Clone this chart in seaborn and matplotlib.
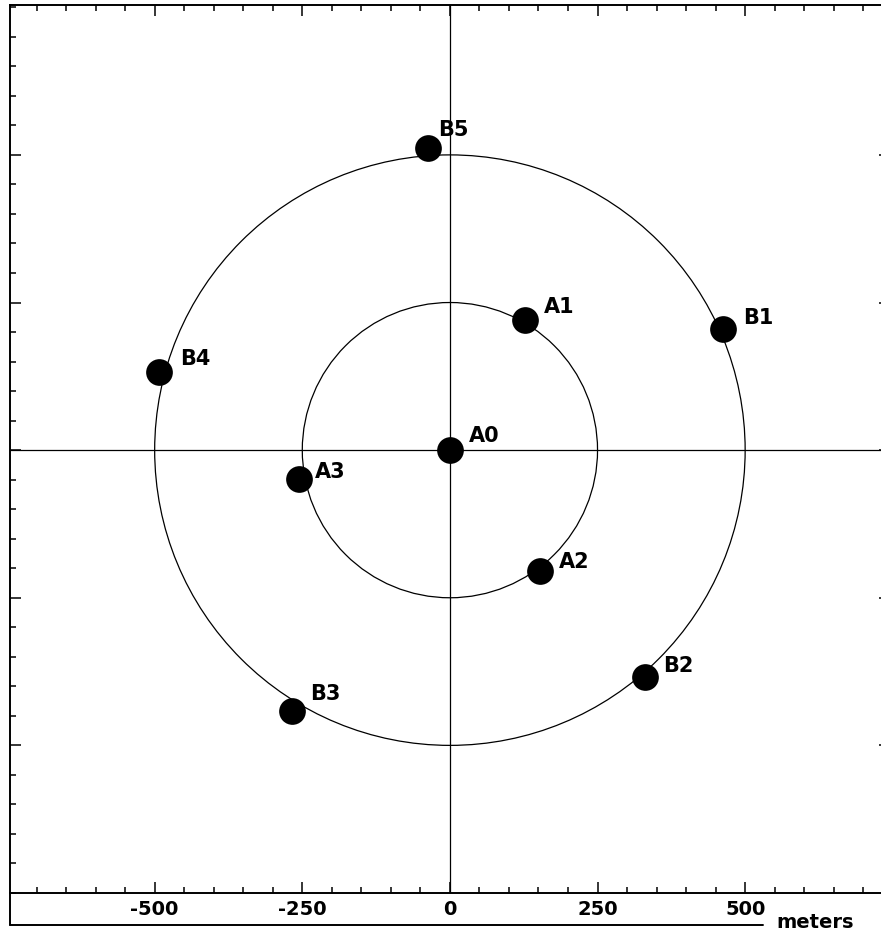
import matplotlib
matplotlib.use("Agg")
import matplotlib.pyplot as plt
from matplotlib.patches import Circle
from matplotlib.lines import Line2D
from matplotlib.ticker import MultipleLocator
import pandas as pd
import seaborn as sns

# Station layout (meters east / north of the central station A0)
stations = ["A0", "A1", "A2", "A3", "B1", "B2", "B3", "B4", "B5"]
east_m = [0, 127, 152, -255, 463, 330, -268, -492, -37]
north_m = [0, 221, -204, -49, 205, -385, -441, 133, 512]

# Ring radii (meters)
ring_radii = [250, 500]

# Axis ticks
major_ticks = [-500, -250, 0, 250, 500]
tick_labels = ["-500", "-250", "0", "250", "500"]
minor_step = 50

# Label offsets in points (dx, dy) from each station marker
label_offsets = {"A0": (14, 10), "A1": (14, 9), "A2": (14, 6), "A3": (11, 5),
                 "B1": (14, 8), "B2": (13, 8), "B3": (13, 12), "B4": (15, 9),
                 "B5": (7, 13)}

df = pd.DataFrame({"station": stations, "east": east_m, "north": north_m})

sns.set_style("white")
plt.rcParams["font.family"] = ["DejaVu Sans"]
plt.rcParams["text.color"] = "black"
plt.rcParams["xtick.color"] = "black"
plt.rcParams["ytick.color"] = "black"

W, H = 881, 938
fig = plt.figure(figsize=(W / 100, H / 100), dpi=100)

x0_px, top_px, bottom_px = 10, 5.5, 893
xlim = (-745, 745)
ylim = (-750, 753)
scale = (bottom_px - top_px) / (ylim[1] - ylim[0])
width_px = (xlim[1] - xlim[0]) * scale
ax = fig.add_axes([x0_px / W, (H - bottom_px) / H, width_px / W,
                   (bottom_px - top_px) / H])

# Cross-hair through the central station
ax.axvline(0, color="black", lw=0.9, zorder=1)
ax.axhline(0, color="black", lw=0.9, zorder=1)

for r in ring_radii:
    ax.add_patch(Circle((0, 0), r, fill=False, ec="black", lw=0.9, zorder=1))

sns.scatterplot(data=df, x="east", y="north", s=370, color="black",
                edgecolor="black", linewidth=0, legend=False, ax=ax, zorder=3)

for name, x, y in zip(stations, east_m, north_m):
    dx, dy = label_offsets[name]
    ax.annotate(name, (x, y), xytext=(dx, dy), textcoords="offset points",
                ha="left", va="center", fontsize=15, fontweight="bold",
                color="black", zorder=4)

ax.set_xlim(*xlim)
ax.set_ylim(*ylim)
ax.set_aspect("auto")

ax.xaxis.set_minor_locator(MultipleLocator(minor_step))
ax.yaxis.set_minor_locator(MultipleLocator(minor_step))
ax.set_xticks(major_ticks)
ax.set_xticklabels(tick_labels)
ax.set_yticks(major_ticks)
ax.set_yticklabels([])
ax.tick_params(which="both", direction="in", top=True, right=True,
               left=True, bottom=True, color="black", labelcolor="black",
               width=1.1)
ax.tick_params(which="major", length=8, pad=5, labelsize=14)
ax.tick_params(which="minor", length=4)
for lbl in ax.get_xticklabels():
    lbl.set_fontweight("bold")
ax.set_xlabel("")
ax.set_ylabel("")

for side in ["left", "right", "top", "bottom"]:
    ax.spines[side].set_visible(True)
    ax.spines[side].set_color("black")
    ax.spines[side].set_linewidth(1.4)

# Frame enclosing the tick labels below the plot
box_bottom = 1 - 925 / H
fig.add_artist(Line2D([x0_px / W, x0_px / W], [(H - bottom_px) / H, box_bottom],
                      color="black", lw=1.4))
fig.add_artist(Line2D([x0_px / W, 763 / W], [box_bottom, box_bottom],
                      color="black", lw=1.4))
fig.text(776 / W, 1 - 922 / H, "meters", ha="left", va="center",
         fontsize=14, fontweight="bold", color="black")

fig.savefig("out.png", dpi=100, facecolor="white")
